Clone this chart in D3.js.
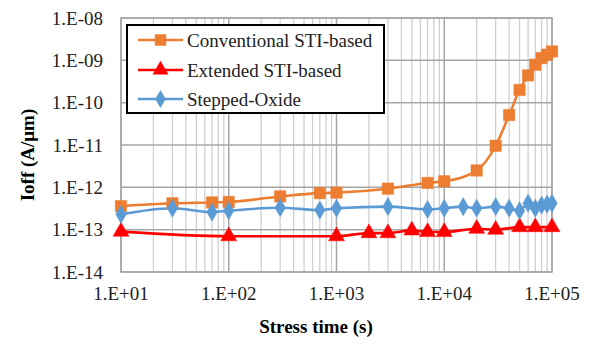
<!DOCTYPE html>
<html><head><meta charset="utf-8">
<script src="https://cdn.jsdelivr.net/npm/d3@7"></script>
<style>body{margin:0;background:#fff}svg{display:block}
text{font-family:"Liberation Serif","Tinos","Times New Roman","DejaVu Serif",serif}</style>
</head><body><svg id="c" width="600" height="349"></svg>
<script>
const seriesNames = ["Conventional STI-based", "Extended STI-based", "Stepped-Oxide"];
const convTime = [10,30,70,100,300,700,1000,3000,7000,10000,20000,30000,40000,50000,60000,70000,80000,90000,100000];
const convIoff = [3.6e-13,4.2e-13,4.4e-13,4.5e-13,6.1e-13,7.3e-13,7.5e-13,9.3e-13,1.27e-12,1.39e-12,2.5e-12,9.6e-12,5.1e-11,2.0e-10,4.4e-10,7.9e-10,1.13e-9,1.36e-9,1.62e-9];
const extTime = [10,100,1000,2000,3000,5000,7000,10000,20000,30000,50000,70000,100000];
const extIoff = [9.0e-14,7.0e-14,7.0e-14,8.3e-14,8.3e-14,9.6e-14,8.8e-14,8.8e-14,1.05e-13,1.0e-13,1.15e-13,1.15e-13,1.15e-13];
const stepTime = [10,30,70,100,300,700,1000,3000,7000,10000,15000,20000,30000,40000,50000,60000,70000,80000,90000,100000];
const stepIoff = [2.3e-13,3.2e-13,2.6e-13,2.8e-13,3.3e-13,2.9e-13,3.2e-13,3.5e-13,3.0e-13,3.2e-13,3.5e-13,3.2e-13,3.5e-13,3.2e-13,2.8e-13,4.2e-13,3.2e-13,3.8e-13,4.0e-13,4.2e-13];
const xTicks = [1e1,1e2,1e3,1e4,1e5];
const xTickLabels = ["1.E+01","1.E+02","1.E+03","1.E+04","1.E+05"];
const yTicks = [1e-14,1e-13,1e-12,1e-11,1e-10,1e-9,1e-8];
const yTickLabels = ["1.E-14","1.E-13","1.E-12","1.E-11","1.E-10","1.E-09","1.E-08"];
const xTitle = "Stress time (s)";
const yTitle = "Ioff (A/μm)";

const svg = d3.select("#c");
const L=121, R=552, T=18, B=272;
const x = d3.scaleLog().domain([1e1,1e5]).range([L,R]);
const y = d3.scaleLog().domain([1e-14,1e-8]).range([B,T]);

const minor=[];
for(let d=1; d<5; d++) for(let k=2;k<=9;k++) minor.push(k*Math.pow(10,d));
svg.append("g").selectAll("line").data(minor).join("line")
  .attr("x1",d=>x(d)).attr("x2",d=>x(d)).attr("y1",T).attr("y2",B)
  .attr("stroke","#d0d0d0").attr("stroke-width",1.3);
svg.append("g").selectAll("line").data(xTicks).join("line")
  .attr("x1",d=>x(d)).attr("x2",d=>x(d)).attr("y1",T).attr("y2",B)
  .attr("stroke","#a6a6a6").attr("stroke-width",1.5);
svg.append("g").selectAll("line").data(yTicks).join("line")
  .attr("x1",L).attr("x2",R).attr("y1",d=>y(d)).attr("y2",d=>y(d))
  .attr("stroke","#a6a6a6").attr("stroke-width",1.5);
svg.append("rect").attr("x",L).attr("y",T).attr("width",R-L).attr("height",B-T)
  .attr("fill","none").attr("stroke","#a6a6a6").attr("stroke-width",1.5);

svg.append("g").selectAll("text").data(xTicks).join("text")
  .attr("x",d=>x(d)).attr("y",300).attr("text-anchor","middle")
  .attr("font-size",19).attr("fill","#222")
  .text((d,i)=>xTickLabels[i]);
svg.append("g").selectAll("text").data(yTicks).join("text")
  .attr("x",103).attr("y",d=>y(d)+6.5).attr("text-anchor","end")
  .attr("font-size",19).attr("fill","#222")
  .text((d,i)=>yTickLabels[i]);

svg.append("text").attr("x",316).attr("y",333).attr("text-anchor","middle")
  .attr("font-size",19).attr("font-weight","bold").text(xTitle);
svg.append("text").attr("transform","translate(34,155) rotate(-90)").attr("text-anchor","middle")
  .attr("font-size",19).attr("font-weight","bold").text(yTitle);

const colors=["#ED7D31","#FF0000","#5B9BD5"];
const data=[
  convTime.map((t,i)=>[t,convIoff[i]]),
  extTime.map((t,i)=>[t,extIoff[i]]),
  stepTime.map((t,i)=>[t,stepIoff[i]])
];
const symbols=[d3.symbolSquare,d3.symbolTriangle,d3.symbolDiamond];
const sizes=[130,110,95];
const line=d3.line().x(d=>x(d[0])).y(d=>y(d[1])).curve(d3.curveMonotoneX);
data.forEach((s,i)=>{
  svg.append("path").datum(s).attr("d",line).attr("fill","none")
    .attr("stroke",colors[i]).attr("stroke-width",2.6);
});
data.forEach((s,i)=>{
  svg.append("g").selectAll("path").data(s).join("path")
    .attr("transform",d=>`translate(${x(d[0])},${y(d[1])})`)
    .attr("d",d3.symbol().type(symbols[i]).size(sizes[i]))
    .attr("fill",colors[i]).attr("stroke",colors[i]).attr("stroke-width",0.5);
});

const lg=svg.append("g");
lg.append("rect").attr("x",127).attr("y",25).attr("width",257).attr("height",88)
  .attr("fill","#fff").attr("stroke","#000").attr("stroke-width",2);
const rows=[40,70,99];
seriesNames.forEach((n,i)=>{
  lg.append("line").attr("x1",138).attr("x2",183).attr("y1",rows[i]).attr("y2",rows[i])
    .attr("stroke",colors[i]).attr("stroke-width",2.6);
  lg.append("path").attr("transform",`translate(160.5,${rows[i]})`)
    .attr("d",d3.symbol().type(symbols[i]).size(sizes[i])).attr("fill",colors[i]);
  lg.append("text").attr("x",187).attr("y",rows[i]+6.5)
    .attr("font-size",19).attr("fill","#222").text(n);
});
</script></body></html>
